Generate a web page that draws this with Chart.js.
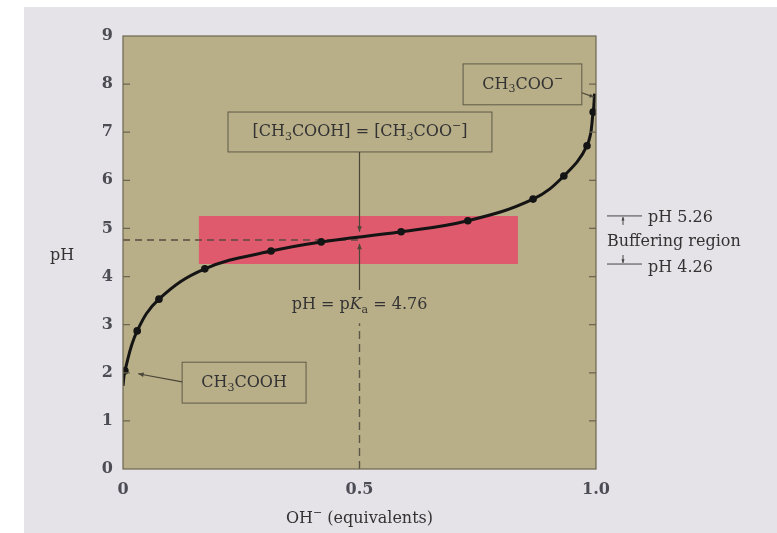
<!DOCTYPE html>
<html>
<head>
<meta charset="utf-8">
<script src="https://cdn.jsdelivr.net/npm/chart.js@4/dist/chart.umd.min.js"></script>
<style>
  html, body { margin: 0; padding: 0; background: #fff; }
  #wrap { width: 777px; height: 533px; position: relative; }
</style>
</head>
<body>
<div id="wrap"><canvas id="myChart"></canvas></div>
<script>
  // titration curve of acetic acid
  const equivalents = [0, 0.004, 0.030, 0.076, 0.173, 0.313, 0.419, 0.588, 0.729, 0.867, 0.932, 0.981, 0.994, 0.997];
  const phValues    = [1.73, 2.04, 2.87, 3.53, 4.16, 4.53, 4.72, 4.93, 5.16, 5.61, 6.09, 6.72, 7.42, 7.80];
  const hasMarker   = [false, true, true, true, true, true, true, true, true, true, true, true, true, false];

  const pKa = 4.76;
  const bufferTop = 5.26;
  const bufferBottom = 4.26;
  const bufferFrom = 0.16;
  const bufferTo = 0.835;

  const xTickValues = [0, 0.5, 1];
  const xTickLabels = ['0', '0.5', '1.0'];
  const yTickValues = [0, 1, 2, 3, 4, 5, 6, 7, 8, 9];
  const yTickLabels = ['0', '1', '2', '3', '4', '5', '6', '7', '8', '9'];

  const FONT = '"DejaVu Serif", "Liberation Serif", serif';
  const INK = '#333';
  const TICK_INK = '#4c4c54';

  const curvePoints = equivalents.map((x, i) => ({ x: x, y: phValues[i] }));

  // rich text: segments with sub / sup / italic
  function drawRich(c, segs, x, y, size, align) {
    const fontOf = s => (s.it ? 'italic ' : '') + Math.round((s.sub || s.sup) ? size * 0.68 : size) + 'px ' + FONT;
    let w = 0;
    segs.forEach(s => { c.font = fontOf(s); w += c.measureText(s.t).width; });
    let cx = align === 'center' ? x - w / 2 : x;
    c.textAlign = 'left';
    c.textBaseline = 'middle';
    segs.forEach(s => {
      c.font = fontOf(s);
      const dy = s.sub ? size * 0.3 : (s.sup ? -size * 0.35 : 0);
      c.fillText(s.t, cx, y + dy);
      cx += c.measureText(s.t).width;
    });
  }

  function arrow(c, x1, y1, x2, y2, head) {
    c.beginPath();
    c.moveTo(x1, y1);
    c.lineTo(x2, y2);
    c.stroke();
    const a = Math.atan2(y2 - y1, x2 - x1);
    c.beginPath();
    c.moveTo(x2, y2);
    c.lineTo(x2 - head * Math.cos(a - 0.4), y2 - head * Math.sin(a - 0.4));
    c.lineTo(x2 - head * Math.cos(a + 0.4), y2 - head * Math.sin(a + 0.4));
    c.closePath();
    c.fill();
  }

  const backdrop = {
    id: 'backdrop',
    beforeDraw(chart) {
      const c = chart.ctx, a = chart.chartArea;
      c.save();
      c.fillStyle = '#fff';
      c.fillRect(0, 0, chart.width, chart.height);
      c.fillStyle = '#e5e3e8';
      c.fillRect(24, 7, chart.width - 24, chart.height - 7);
      c.fillStyle = '#b8ae88';
      c.fillRect(a.left, a.top, a.right - a.left, a.bottom - a.top);
      c.restore();
    }
  };

  const notes = {
    id: 'notes',
    afterDatasetsDraw(chart) {
      const c = chart.ctx, a = chart.chartArea;
      const xs = chart.scales.x, ys = chart.scales.y;
      const px = v => xs.getPixelForValue(v), py = v => ys.getPixelForValue(v);
      c.save();

      // frame + small inside ticks
      c.strokeStyle = '#6b6650';
      c.lineWidth = 1.2;
      c.strokeRect(a.left, a.top, a.right - a.left, a.bottom - a.top);
      yTickValues.slice(1, -1).forEach(v => {
        c.beginPath();
        c.moveTo(a.left, py(v)); c.lineTo(a.left + 7, py(v));
        c.moveTo(a.right - 7, py(v)); c.lineTo(a.right, py(v));
        c.stroke();
      });

      // boxes
      c.strokeStyle = '#5e5a48';
      c.lineWidth = 1;
      const box = (x1, x2, y1, y2) => c.strokeRect(px(x1), py(y1), px(x2) - px(x1), py(y2) - py(y1));
      box(0.222, 0.780, 7.42, 6.59);
      box(0.719, 0.970, 8.42, 7.57);
      box(0.125, 0.387, 2.22, 1.37);

      c.fillStyle = INK;
      drawRich(c, [{ t: '[CH' }, { t: '3', sub: true }, { t: 'COOH] = [CH' }, { t: '3', sub: true }, { t: 'COO' }, { t: '\u2212', sup: true }, { t: ']' }],
        px(0.501), py(7.0), 16, 'center');
      drawRich(c, [{ t: 'CH' }, { t: '3', sub: true }, { t: 'COO' }, { t: '\u2212', sup: true }],
        px(0.845), py(7.99), 16, 'center');
      drawRich(c, [{ t: 'CH' }, { t: '3', sub: true }, { t: 'COOH' }],
        px(0.256), py(1.79), 16, 'center');
      drawRich(c, [{ t: 'pH = p' }, { t: 'K', it: true }, { t: 'a', sub: true }, { t: ' = ' + pKa.toFixed(2) }],
        px(0.5), py(3.41), 16, 'center');

      // arrows
      c.strokeStyle = '#4a4638';
      c.fillStyle = '#4a4638';
      c.lineWidth = 1.2;
      arrow(c, px(0.5), py(6.59), px(0.5), py(4.93), 6);
      arrow(c, px(0.5), py(3.72), px(0.5), py(4.68), 6);
      arrow(c, px(0.125), py(1.81), px(0.032), py(1.98), 6);
      arrow(c, px(0.970), py(7.82), px(0.996), py(7.73), 5);

      // buffering region note, right of the plot
      const lx = a.right + 11;
      c.strokeStyle = '#444';
      c.fillStyle = '#444';
      c.lineWidth = 1;
      c.beginPath();
      c.moveTo(lx, py(bufferTop)); c.lineTo(lx + 35, py(bufferTop));
      c.moveTo(lx, py(bufferBottom)); c.lineTo(lx + 35, py(bufferBottom));
      c.stroke();
      arrow(c, lx + 16, py(bufferTop) + 9, lx + 16, py(bufferTop) + 1, 4);
      arrow(c, lx + 16, py(bufferBottom) - 9, lx + 16, py(bufferBottom) - 1, 4);
      c.fillStyle = INK;
      drawRich(c, [{ t: 'pH ' + bufferTop.toFixed(2) }], lx + 41, py(bufferTop) + 2, 16, 'left');
      drawRich(c, [{ t: 'Buffering region' }], lx, (py(bufferTop) + py(bufferBottom)) / 2 + 2, 16, 'left');
      drawRich(c, [{ t: 'pH ' + bufferBottom.toFixed(2) }], lx + 41, py(bufferBottom) + 4, 16, 'left');

      // axis titles
      drawRich(c, [{ t: 'pH' }], 62, 256, 16, 'center');
      drawRich(c, [{ t: 'OH' }, { t: '\u2212', sup: true }, { t: ' (equivalents)' }], px(0.5), 519, 16, 'center');
      c.restore();
    }
  };

  new Chart(document.getElementById('myChart'), {
    type: 'line',
    data: {
      datasets: [
        {
          label: 'pH',
          data: curvePoints,
          borderColor: '#141414',
          borderWidth: 3,
          tension: 0.4,
          pointRadius: hasMarker.map(m => m ? 3.8 : 0),
          pointBackgroundColor: '#141414',
          pointBorderWidth: 0,
          order: 0
        },
        {
          label: 'pKa level',
          data: [{ x: 0, y: pKa }, { x: 0.5, y: pKa }],
          borderColor: '#5c4a40',
          borderWidth: 1.4,
          borderDash: [7, 5],
          pointRadius: 0,
          order: 5
        },
        {
          label: 'half equivalence',
          data: [{ x: 0.5, y: 0 }, { x: 0.5, y: 3.03 }],
          borderColor: '#5c5748',
          borderWidth: 1.4,
          borderDash: [8, 5],
          pointRadius: 0,
          order: 5
        },
        {
          label: 'buffer top',
          data: [{ x: bufferFrom, y: bufferTop }, { x: bufferTo, y: bufferTop }],
          borderWidth: 0,
          pointRadius: 0,
          backgroundColor: '#df5a6c',
          fill: '+1',
          order: 10
        },
        {
          label: 'buffer bottom',
          data: [{ x: bufferFrom, y: bufferBottom }, { x: bufferTo, y: bufferBottom }],
          borderWidth: 0,
          pointRadius: 0,
          fill: false,
          order: 11
        }
      ]
    },
    options: {
      responsive: true,
      maintainAspectRatio: false,
      animation: false,
      layout: { padding: { left: 83, right: 181, top: 36, bottom: 0 } },
      plugins: { legend: { display: false }, tooltip: { enabled: false } },
      scales: {
        x: {
          type: 'linear',
          min: 0,
          max: 1,
          afterBuildTicks: s => { s.ticks = xTickValues.map(v => ({ value: v })); },
          afterFit: s => { s.height = 64; },
          grid: { display: false, drawTicks: false },
          border: { display: false },
          ticks: {
            padding: 11,
            maxRotation: 0,
            color: TICK_INK,
            font: { family: FONT, size: 16, weight: 'bold' },
            callback: (v, i) => xTickLabels[i]
          }
        },
        y: {
          type: 'linear',
          min: 0,
          max: 9,
          afterBuildTicks: s => { s.ticks = yTickValues.map(v => ({ value: v })); },
          afterFit: s => { s.width = 40; },
          grid: { display: false, drawTicks: false },
          border: { display: false },
          ticks: {
            padding: 10,
            color: TICK_INK,
            font: { family: FONT, size: 16, weight: 'bold' },
            callback: (v, i) => yTickLabels[i]
          }
        }
      }
    },
    plugins: [backdrop, notes]
  });
</script>
</body>
</html>
